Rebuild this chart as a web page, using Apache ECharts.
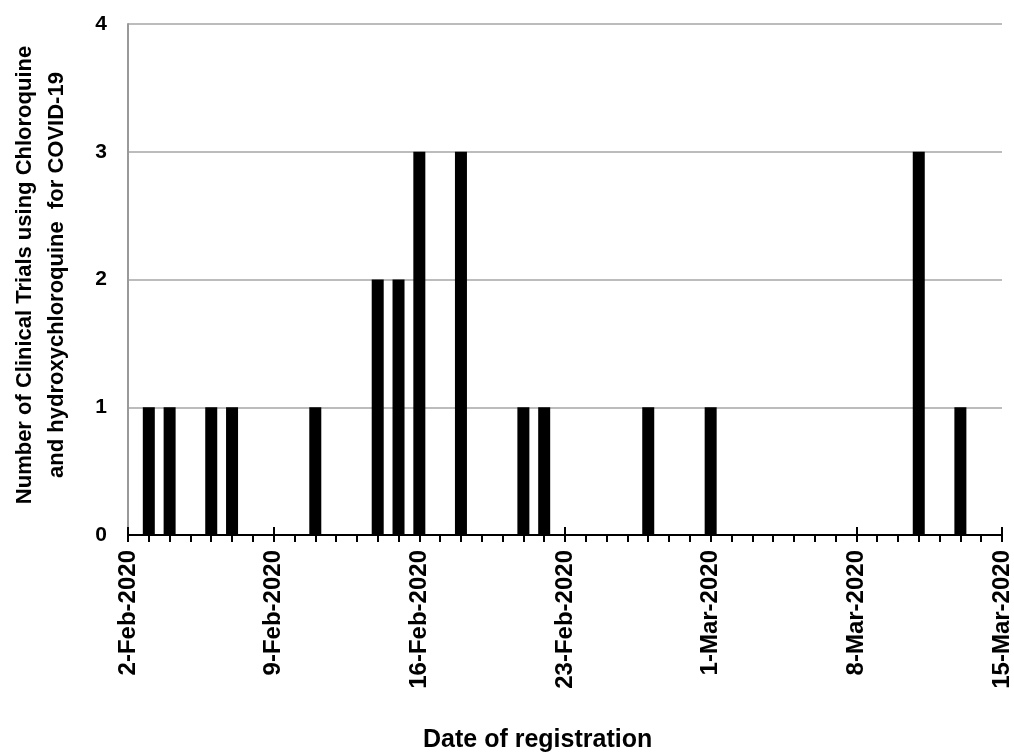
<!DOCTYPE html>
<html>
<head>
<meta charset="utf-8">
<script src="https://cdn.jsdelivr.net/npm/echarts@6/dist/echarts.min.js"></script>
<style>html,body{margin:0;padding:0;background:#fff;}#c{width:1014px;height:756px;}</style>
</head>
<body>
<div id="c"></div>
<script>
var categories = [
  '2-Feb-2020','3-Feb-2020','4-Feb-2020','5-Feb-2020','6-Feb-2020','7-Feb-2020','8-Feb-2020',
  '9-Feb-2020','10-Feb-2020','11-Feb-2020','12-Feb-2020','13-Feb-2020','14-Feb-2020','15-Feb-2020',
  '16-Feb-2020','17-Feb-2020','18-Feb-2020','19-Feb-2020','20-Feb-2020','21-Feb-2020','22-Feb-2020',
  '23-Feb-2020','24-Feb-2020','25-Feb-2020','26-Feb-2020','27-Feb-2020','28-Feb-2020','29-Feb-2020',
  '1-Mar-2020','2-Mar-2020','3-Mar-2020','4-Mar-2020','5-Mar-2020','6-Mar-2020','7-Mar-2020',
  '8-Mar-2020','9-Mar-2020','10-Mar-2020','11-Mar-2020','12-Mar-2020','13-Mar-2020','14-Mar-2020',
  '15-Mar-2020'
];
var trials = [
  0,1,1,0,1,1,0,
  0,0,1,0,0,2,2,
  3,0,3,0,0,1,1,
  0,0,0,0,1,0,0,
  1,0,0,0,0,0,0,
  0,0,0,3,0,1,0,
  0
];
var yTicks = [0,1,2,3,4];
var xTitle = 'Date of registration';
var yTitle = 'Number of Clinical Trials using Chloroquine\nand hydroxychloroquine  for COVID-19';

var FONT = '"Liberation Sans", Arial, sans-serif';
var chart = echarts.init(document.getElementById('c'));
chart.setOption({
  backgroundColor: '#fff',
  animation: false,
  grid: { left: 128, right: 11, top: 24, bottom: 221, containLabel: false },
  xAxis: [{
    type: 'category',
    data: categories,
    boundaryGap: false,
    axisLine: { lineStyle: { color: '#000', width: 2 } },
    axisTick: { show: true, interval: 0, length: 7, lineStyle: { color: '#000', width: 2 } },
    axisLabel: {
      interval: 6, rotate: 90, margin: 15, color: '#000',
      fontSize: 24, fontWeight: 'bold', fontFamily: FONT
    },
    splitLine: { show: false }
  }, {
    type: 'category',
    data: categories,
    boundaryGap: false,
    position: 'bottom',
    axisLine: { show: false },
    axisTick: { show: true, inside: true, interval: 6, length: 8, lineStyle: { color: '#000', width: 2 } },
    axisLabel: { show: false },
    splitLine: { show: false }
  }],
  yAxis: {
    type: 'value',
    min: yTicks[0], max: yTicks[yTicks.length - 1], interval: 1,
    axisLine: { show: true, lineStyle: { color: '#999', width: 2 } },
    axisTick: { show: false },
    axisLabel: { margin: 21, color: '#000', fontSize: 21, fontWeight: 'bold', fontFamily: FONT },
    splitLine: { show: true, lineStyle: { color: '#a6a6a6', width: 1.5 } }
  },
  series: [{
    type: 'bar',
    data: trials,
    barWidth: 12,
    itemStyle: { color: '#000' },
    xAxisIndex: 0
  }],
  graphic: [{
    type: 'text',
    left: 423, top: 728,
    style: { text: xTitle, fill: '#000', font: 'bold 25px ' + FONT }
  }, {
    type: 'text',
    x: 41, y: 275,
    rotation: Math.PI / 2,
    style: {
      text: yTitle, fill: '#000', font: 'bold 22px ' + FONT,
      align: 'center', verticalAlign: 'middle', lineHeight: 32
    }
  }]
});
</script>
</body>
</html>
